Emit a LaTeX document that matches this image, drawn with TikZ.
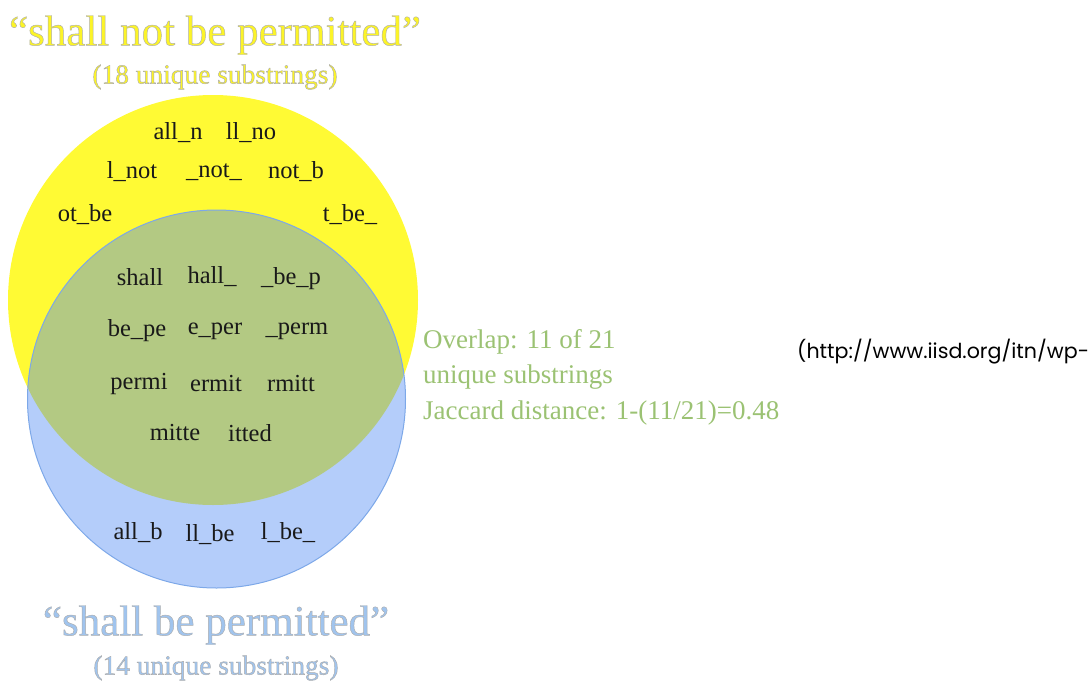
\documentclass[tikz,border=0pt]{standalone}
\usepackage{fontspec}
\setmainfont{Liberation Serif}
\newfontfamily\urlfont{Poppins}
\usepackage{tikz}

\definecolor{venyellow}{RGB}{255,250,52}
\definecolor{venblue}{RGB}{74,134,243}
\definecolor{venedge}{RGB}{125,168,232}
\definecolor{ovgreen}{RGB}{155,194,115}
\definecolor{titleyellow}{RGB}{252,244,40}
\definecolor{titleblue}{RGB}{160,196,238}

\newcommand{\outlined}[1]{\special{pdf:literal direct 2 Tr 0.45 w 0.68 G}#1\special{pdf:literal direct 0 Tr 0 G}}

\tikzset{
  sub/.style={font=\fontsize{24.5}{24.5}\selectfont, text=black!90, inner sep=0pt},
  title/.style={font=\fontsize{43}{43}\selectfont, inner sep=0pt},
  count/.style={font=\fontsize{27.4}{27.4}\selectfont, inner sep=0pt},
  note/.style={font=\fontsize{27}{35.5}\selectfont, text=ovgreen, align=left, inner sep=0pt, anchor=west}
}

\begin{document}
\begin{tikzpicture}[x=1pt, y=-1pt]

\useasboundingbox (0,0) rectangle (1088,686);

% the two sets
\fill[venyellow] (213,300) circle (205pt);
\draw[venedge, line width=1pt, fill=venblue, fill opacity=0.415] (216.5,399) circle (189pt);

% only in "shall not be permitted"
\node[sub] (alln) at (178,133) {all\_n};
\node[sub] (llno) at (251,133) {ll\_no};
\node[sub] (lnot) at (132,172) {l\_not};
\node[sub] (notm) at (214,172) {\_not\_};
\node[sub] (notb) at (296,172) {not\_b};
\node[sub] (otbe) at (85,215) {ot\_be};
\node[sub] (tbe) at (350,215) {t\_be\_};

% in both
\node[sub] (shall) at (140,277) {shall};
\node[sub] (hall) at (212,277) {hall\_};
\node[sub] (bep) at (291,279) {\_be\_p};
\node[sub] (bepe) at (137,331) {be\_pe};
\node[sub] (eper) at (215,331) {e\_per};
\node[sub] (perm) at (297,331) {\_perm};
\node[sub] (permi) at (139,384) {permi};
\node[sub] (ermit) at (216,384) {ermit};
\node[sub] (rmitt) at (291,384) {rmitt};
\node[sub] (mitte) at (175,433) {mitte};
\node[sub] (itted) at (250,433) {itted};

% only in "shall be permitted"
\node[sub] (allb) at (138,533) {all\_b};
\node[sub] (llbe) at (210,535) {ll\_be};
\node[sub] (lbe) at (288,533) {l\_be\_};

% overlap note
\node[note] (overlap) at (423,377) {Overlap: 11 of 21\\unique substrings\\Jaccard distance: 1-(11/21)=0.48};

\node[font=\urlfont\fontsize{20.6}{20.6}\selectfont, anchor=west, inner sep=0pt] (source) at (797,352) {(http://www.iisd.org/itn/wp-};

% titles
\node[title, text=titleyellow] (nottitle) at (215,35) {\outlined{“shall not be permitted”}};
\node[count, text=titleyellow] (notcount) at (215,77) {\outlined{(18 unique substrings)}};
\node[title, text=titleblue] (betitle) at (216,625) {\outlined{“shall be permitted”}};
\node[count, text=titleblue] (becount) at (216,668) {\outlined{(14 unique substrings)}};

\end{tikzpicture}
\end{document}
